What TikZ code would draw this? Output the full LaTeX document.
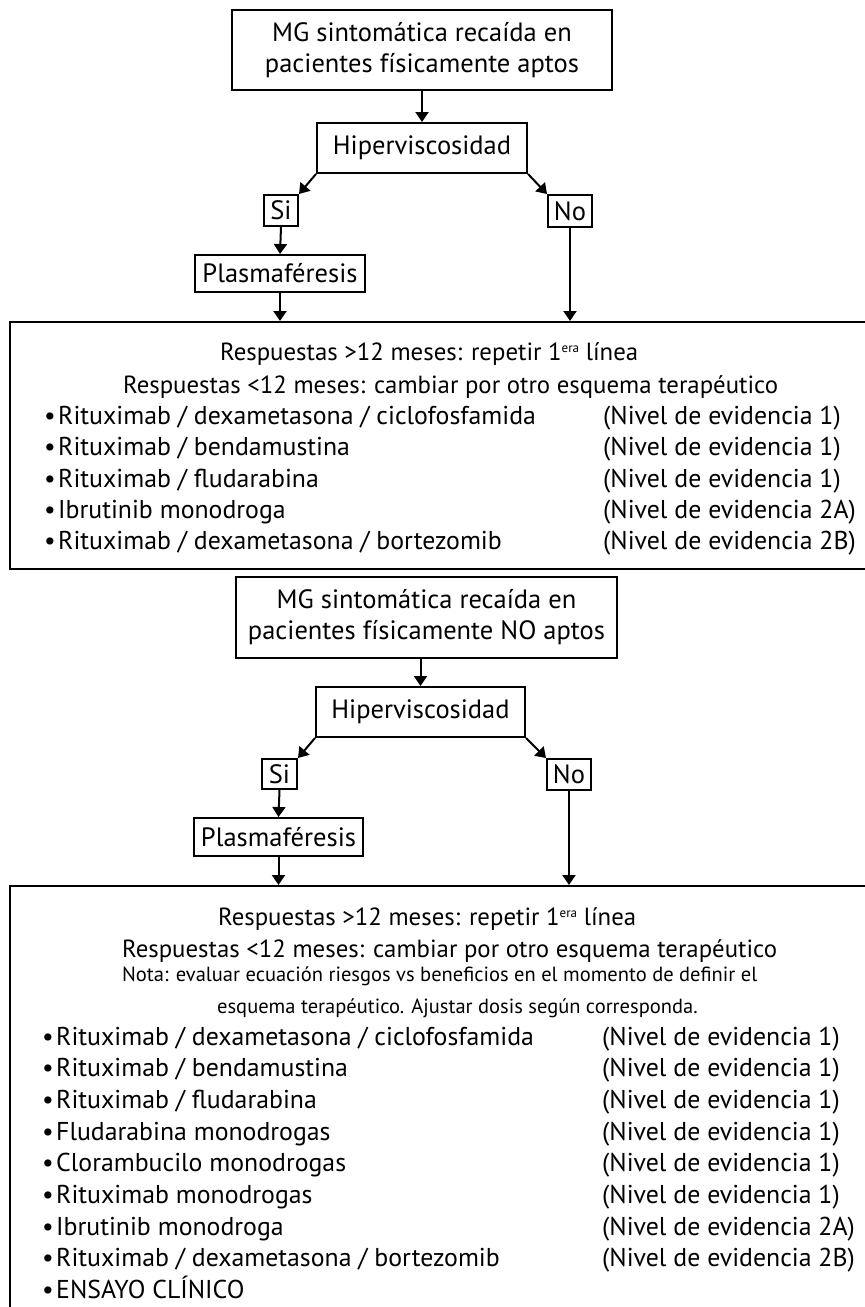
\documentclass[tikz,border=0pt]{standalone}
\usepackage{fontspec}
\setmainfont{PT Sans}
\usetikzlibrary{arrows.meta}
\newcommand\itm{\makebox[14pt][l]{\textbullet}}
\newcommand\supera{\raisebox{8pt}{\fontsize{13}{13}\selectfont era}}
\begin{document}
\begin{tikzpicture}[x=1pt,y=-1pt,
  box/.style={draw, line width=2pt, inner sep=0pt, align=center,
    font=\fontsize{26.5}{31}\selectfont},
  txt/.style={inner sep=0pt, anchor=base west, font=\fontsize{25.8}{31}\selectfont},
  head/.style={inner sep=0pt, anchor=base west, font=\fontsize{24.8}{31}\selectfont},
  note/.style={inner sep=0pt, anchor=base west, font=\fontsize{20.5}{24}\selectfont},
  conn/.style={line width=2pt, -{Triangle[length=10pt,width=13pt]}}]
\clip (0,0) rectangle (865,1307);
\fill[white] (0,0) rectangle (865,1307);

% ---------- fit patients ----------
\node[box, minimum width=380pt, minimum height=80pt] (top1) at (422,50)
  {MG sintomática recaída en\\pacientes físicamente aptos};
\node[box, minimum width=210pt, minimum height=50pt] (hip1) at (422,148) {Hiperviscosidad};
\node[box, minimum width=34pt, minimum height=31pt] (si1) at (281,210.5) {Si};
\node[box, minimum width=44pt, minimum height=32pt] (no1) at (570,211) {No};
\node[box, minimum width=170pt, minimum height=37pt] (pl1) at (280,273.5) {Plasmaféresis};
\node[draw, line width=2pt, minimum width=900pt, minimum height=247pt, inner sep=0pt,
  anchor=north west] (big1) at (9,321) {};

\draw[conn] (top1.south -| hip1.north) -- (hip1.north);
\draw[conn] (hip1.south west) -- (si1.north east);
\draw[conn] (hip1.south east) -- (no1.north west);
\draw[conn] (si1.south) -- (pl1.north);
\draw[conn] (pl1.south) -- (pl1.south |- big1.north);
\draw[conn] (no1.south) -- (no1.south |- big1.north);

\node[head] (a1) at (220,360) {Respuestas >12 meses: repetir 1\supera{} línea};
\node[head] (a2) at (123,393) {Respuestas <12 meses: cambiar por otro esquema terapéutico};
\node[txt] (a3) at (44,424) {\itm Rituximab / dexametasona / ciclofosfamida};
\node[txt] (a4) at (44,455.5) {\itm Rituximab / bendamustina};
\node[txt] (a5) at (44,487) {\itm Rituximab / fludarabina};
\node[txt] (a6) at (44,518) {\itm Ibrutinib monodroga};
\node[txt] (a7) at (44,549) {\itm Rituximab / dexametasona / bortezomib};
\node[txt] (b3) at (603,424) {(Nivel de evidencia 1)};
\node[txt] (b4) at (603,455.5) {(Nivel de evidencia 1)};
\node[txt] (b5) at (603,487) {(Nivel de evidencia 1)};
\node[txt] (b6) at (603,518) {(Nivel de evidencia 2A)};
\node[txt] (b7) at (603,549) {(Nivel de evidencia 2B)};

% ---------- unfit patients ----------
\node[box, minimum width=381pt, minimum height=81pt] (top2) at (426.5,617.5)
  {MG sintomática recaída en\\pacientes físicamente NO aptos};
\node[box, minimum width=209pt, minimum height=50pt] (hip2) at (420.5,712) {Hiperviscosidad};
\node[box, minimum width=35pt, minimum height=30pt] (si2) at (279.5,774) {Si};
\node[box, minimum width=44pt, minimum height=31pt] (no2) at (569,774.5) {No};
\node[box, minimum width=169pt, minimum height=38pt] (pl2) at (278.5,837) {Plasmaféresis};
\node[draw, line width=2pt, minimum width=900pt, minimum height=500pt, inner sep=0pt,
  anchor=north west] (big2) at (9,885) {};

\draw[conn] (hip2.north |- top2.south) -- (hip2.north);
\draw[conn] (hip2.south west) -- (si2.north east);
\draw[conn] (hip2.south east) -- (no2.north west);
\draw[conn] (si2.south) -- (pl2.north);
\draw[conn] (pl2.south) -- (pl2.south |- big2.north);
\draw[conn] (no2.south) -- (no2.south |- big2.north);

\node[head] (c1) at (218,925) {Respuestas >12 meses: repetir 1\supera{} línea};
\node[head] (c2) at (122,957) {Respuestas <12 meses: cambiar por otro esquema terapéutico};
\node[note] (n1) at (122,981) {Nota: evaluar ecuación riesgos vs beneficios en el momento de definir el};
\node[note] (n2) at (217,1013) {esquema terapéutico. Ajustar dosis según corresponda.};
\node[txt] (c3) at (42,1045) {\itm Rituximab / dexametasona / ciclofosfamida};
\node[txt] (c4) at (42,1076.7) {\itm Rituximab / bendamustina};
\node[txt] (c5) at (42,1108.3) {\itm Rituximab / fludarabina};
\node[txt] (c6) at (42,1140) {\itm Fludarabina monodrogas};
\node[txt] (c7) at (42,1171.7) {\itm Clorambucilo monodrogas};
\node[txt] (c8) at (42,1203.3) {\itm Rituximab monodrogas};
\node[txt] (c9) at (42,1235) {\itm Ibrutinib monodroga};
\node[txt] (c10) at (42,1266.7) {\itm Rituximab / dexametasona / bortezomib};
\node[txt] (c11) at (42,1298.3) {\itm ENSAYO CLÍNICO};
\node[txt] (d3) at (602,1045) {(Nivel de evidencia 1)};
\node[txt] (d4) at (602,1076.7) {(Nivel de evidencia 1)};
\node[txt] (d5) at (602,1108.3) {(Nivel de evidencia 1)};
\node[txt] (d6) at (602,1140) {(Nivel de evidencia 1)};
\node[txt] (d7) at (602,1171.7) {(Nivel de evidencia 1)};
\node[txt] (d8) at (602,1203.3) {(Nivel de evidencia 1)};
\node[txt] (d9) at (602,1235) {(Nivel de evidencia 2A)};
\node[txt] (d10) at (602,1266.7) {(Nivel de evidencia 2B)};
\end{tikzpicture}
\end{document}
